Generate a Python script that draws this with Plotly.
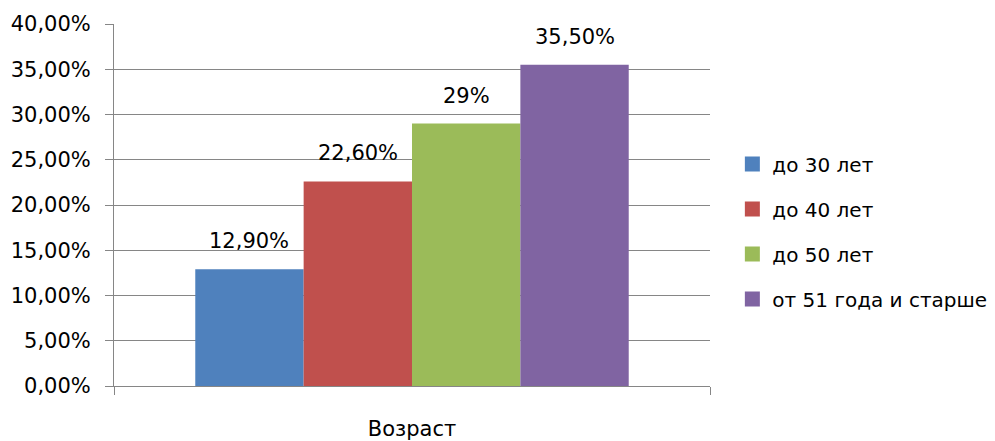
import plotly.graph_objects as go

category = ["Возраст"]
series_names = ["до 30 лет", "до 40 лет", "до 50 лет", "от 51 года и старше"]
values = [0.129, 0.226, 0.29, 0.355]
value_labels = ["12,90%", "22,60%", "29%", "35,50%"]
colors = ["#4F81BD", "#C0504D", "#9BBB59", "#8064A2"]

FONT = "DejaVu Sans"
FS = 21
LFS = 20
BARGAP = 1.5 / 5.5

fig = go.Figure()
n = len(series_names)
w = (1 - BARGAP) / n
for i, (name, v, c) in enumerate(zip(series_names, values, colors)):
    fig.add_trace(go.Bar(x=category, y=[v], name=name, marker=dict(color=c, line=dict(width=0)),
                         legendgroup=name, showlegend=False))
    # legend-only entry with a larger square swatch
    fig.add_trace(go.Scatter(x=[None], y=[None], name=name, mode="markers",
                             marker=dict(symbol="square", size=15, color=c, line=dict(width=0)),
                             legendgroup=name, showlegend=True, hoverinfo="skip"))
    fig.add_annotation(x=(i - (n - 1) / 2) * w, y=v, xref="x", yref="y", text=value_labels[i],
                       showarrow=False, yanchor="bottom", yshift=14,
                       font=dict(family=FONT, size=FS, color="#000000"))

fig.update_layout(
    width=995, height=441,
    margin=dict(l=106, r=293, t=16, b=63, autoexpand=False),
    paper_bgcolor="white", plot_bgcolor="white",
    barmode="group", bargap=BARGAP, bargroupgap=0,
    separators=", ",
    font=dict(family=FONT, size=FS, color="#000000"),
    legend=dict(xref="container", yref="container", x=0.728, xanchor="left",
                y=0.4932, yanchor="middle",
                tracegroupgap=16, font=dict(family=FONT, size=LFS),
                itemwidth=30, bgcolor="rgba(0,0,0,0)"),
    showlegend=True,
)
fig.update_yaxes(range=[0, 0.4], dtick=0.05, tickformat=".2%",
                 showgrid=True, gridcolor="#868686", gridwidth=1,
                 showline=True, linecolor="#868686", linewidth=1,
                 ticks="outside", ticklen=8, tickcolor="#868686",
                 zeroline=False, ticklabelstandoff=10, automargin=False)
fig.update_xaxes(showline=True, linecolor="#868686", linewidth=1,
                 ticks="outside", tickson="boundaries", ticklen=8, tickcolor="#868686",
                 ticklabelstandoff=24, automargin=False)

fig.write_html("out.html")
